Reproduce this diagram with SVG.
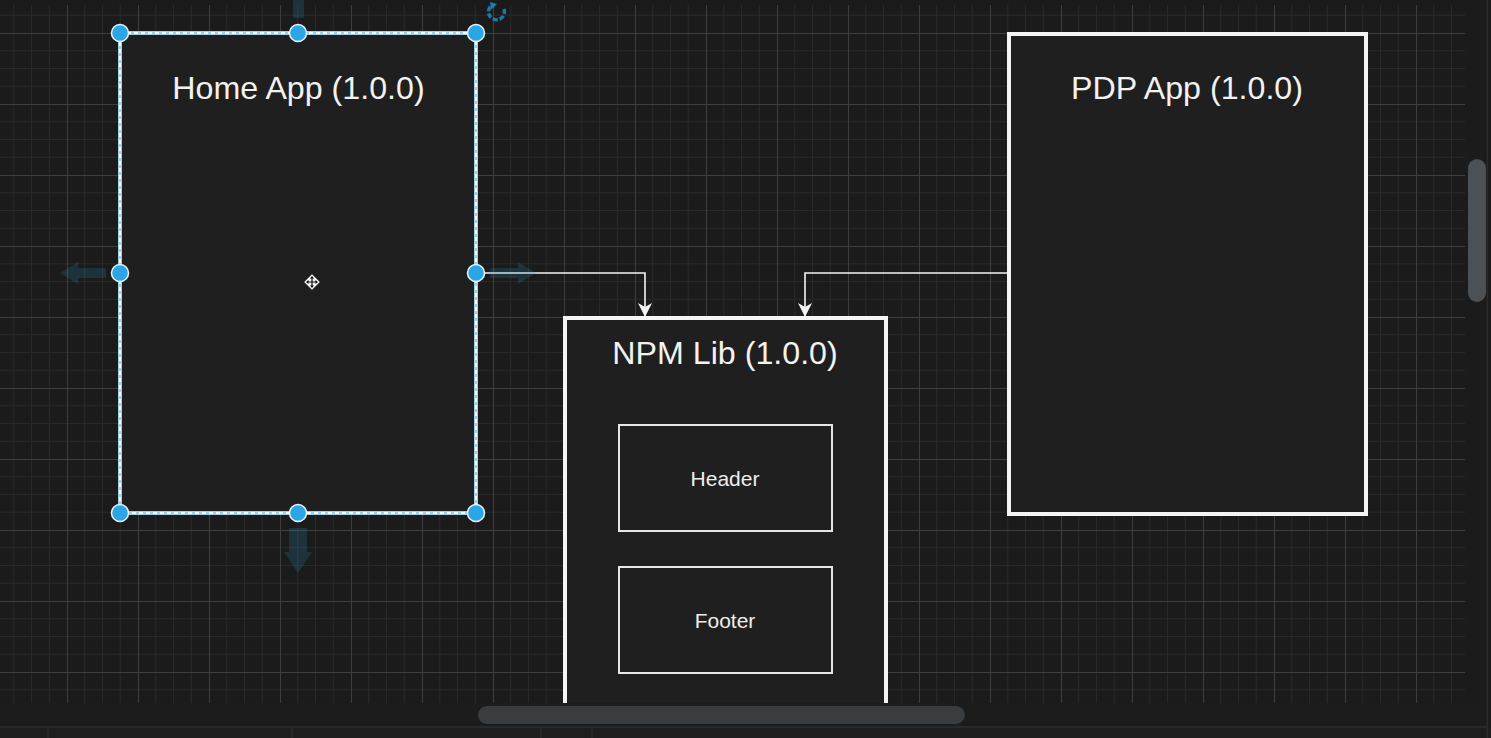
<svg xmlns="http://www.w3.org/2000/svg" width="1491" height="738" viewBox="0 0 1491 738">
  <style>
    .title { font-family: "Liberation Sans", Arial, Helvetica, sans-serif; font-size: 32.2px; fill: #f2f2f2; text-anchor: middle; }
    .label { font-family: "Liberation Sans", Arial, Helvetica, sans-serif; font-size: 21px; fill: #eeeeee; text-anchor: middle; }
    .box { fill: #1f1f1f; stroke: #f4f4f4; stroke-width: 4; }
    .inner { fill: #1f1f1f; stroke: #e6e6e6; stroke-width: 2; }
    .edge { fill: none; stroke: #f4f4f4; stroke-width: 1.6; }
    .handle { fill: #2aa6e6; stroke: #e8f4fb; stroke-width: 1.5; }
    .hover { fill: #2a8fc0; opacity: 0.2; }
    .minor { stroke: #292929; stroke-width: 1; }
    .major { stroke: #3e3e3e; stroke-width: 1; }
  </style>
  <defs>
    <pattern id="grid" patternUnits="userSpaceOnUse" x="67" y="33" width="71" height="71">
      <line class="minor" x1="17.75" y1="0" x2="17.75" y2="71"/>
      <line class="minor" x1="35.5" y1="0" x2="35.5" y2="71"/>
      <line class="minor" x1="53.25" y1="0" x2="53.25" y2="71"/>
      <line class="minor" x1="0" y1="17.75" x2="71" y2="17.75"/>
      <line class="minor" x1="0" y1="35.5" x2="71" y2="35.5"/>
      <line class="minor" x1="0" y1="53.25" x2="71" y2="53.25"/>
      <line class="major" x1="0.5" y1="0" x2="0.5" y2="71"/>
      <line class="major" x1="0" y1="0.5" x2="71" y2="0.5"/>
    </pattern>
    <marker id="arrow" markerUnits="userSpaceOnUse" viewBox="0 0 14 14" markerWidth="14" markerHeight="14" refX="13" refY="7" orient="auto">
      <path d="M0,0 L14,7 L0,14 L4,7 Z" fill="#f4f4f4"/>
    </marker>
  </defs>

  <!-- canvas -->
  <rect x="0" y="0" width="1491" height="738" fill="#1b1b1b"/>
  <rect x="0" y="5" width="1465" height="698" fill="url(#grid)"/>
  <rect x="0" y="703" width="1487" height="24" fill="#1c1c1c"/>
  <line x1="0" y1="727" x2="1487" y2="727" stroke="#2e2e2e" stroke-width="1.5"/>
  <rect x="0" y="728" width="1491" height="10" fill="#1e1e1e"/>
  <g stroke="#333333" stroke-width="1">
    <line x1="48" y1="728" x2="48" y2="738"/>
    <line x1="292" y1="728" x2="292" y2="738"/>
    <line x1="541" y1="728" x2="541" y2="738"/>
    <line x1="592" y1="728" x2="592" y2="738"/>
  </g>
  <line x1="1487.5" y1="0" x2="1487.5" y2="738" stroke="#2c2c2c" stroke-width="1.5"/>
  <rect x="1468" y="159" width="18" height="143" rx="9" fill="#4b5155"/>

  <!-- connectors -->
  <g id="connectors">
    <path class="edge" d="M476,273 H645 V316" marker-end="url(#arrow)"/>
    <path class="edge" d="M1009,273 H805 V316" marker-end="url(#arrow)"/>
  </g>

  <!-- nodes -->
  <g id="home-app">
    <rect x="120" y="33" width="356" height="480" fill="#1f1f1f" stroke="#9fd0ea" stroke-width="4"/>
    <rect x="120" y="33" width="356" height="480" fill="none" stroke="#ffffff" stroke-width="2" stroke-dasharray="4 3"/>
    <text class="title" x="298.5" y="99">Home App (1.0.0)</text>
  </g>

  <g id="pdp-app">
    <rect class="box" x="1009" y="34" width="357" height="480"/>
    <text class="title" x="1187" y="99">PDP App (1.0.0)</text>
  </g>

  <g id="npm-lib">
    <rect class="box" x="565" y="318" width="321" height="400"/>
    <text class="title" x="725" y="364">NPM Lib (1.0.0)</text>
  </g>

  <g id="header">
    <rect class="inner" x="619" y="425" width="213" height="106"/>
    <text class="label" x="725" y="486">Header</text>
  </g>

  <g id="footer">
    <rect class="inner" x="619" y="567" width="213" height="106"/>
    <text class="label" x="725" y="628">Footer</text>
  </g>

  <!-- canvas bottom band overlays the cut-off NPM box -->
  <rect x="0" y="703" width="1487" height="3" fill="#1c1c1c"/>
  <rect x="478" y="706" width="487" height="18" rx="9" fill="#3a3d40"/>

  <!-- selection UI on Home App -->
  <g id="selection-ui">
    <path class="hover" d="M60,273 L78,262 L78,268 L106,268 L106,278 L78,278 L78,284 Z"/>
    <path class="hover" d="M536,273 L518,262 L518,268 L490,268 L490,278 L518,278 L518,284 Z"/>
    <path class="hover" d="M298,573 L284,552 L289,552 L289,528 L307,528 L307,552 L312,552 Z"/>
    <rect class="hover" x="293" y="0" width="11" height="18"/>
    <g fill="none" stroke="#1d86c2" stroke-width="3.5" opacity="0.85">
      <path d="M504,9 A8,8 0 1,1 493,4.5" stroke-dasharray="5 2"/>
    </g>
    <path d="M490,2 L497,4 L491,10 Z" fill="#1d86c2" opacity="0.85"/>
    <circle class="handle" cx="120" cy="33" r="8.5"/>
    <circle class="handle" cx="298" cy="33" r="8.5"/>
    <circle class="handle" cx="476" cy="33" r="8.5"/>
    <circle class="handle" cx="120" cy="273" r="8.5"/>
    <circle class="handle" cx="476" cy="273" r="8.5"/>
    <circle class="handle" cx="120" cy="513" r="8.5"/>
    <circle class="handle" cx="298" cy="513" r="8.5"/>
    <circle class="handle" cx="476" cy="513" r="8.5"/>
    <g transform="translate(312,282)">
      <path d="M0,-8 L8,0 L0,8 L-8,0 Z" fill="#f4f4f4" stroke="#555" stroke-width="0.8"/>
      <path d="M0,-6 L-2,-3.5 L2,-3.5 Z M0,6 L-2,3.5 L2,3.5 Z M-6,0 L-3.5,-2 L-3.5,2 Z M6,0 L3.5,-2 L3.5,2 Z" fill="#111"/>
      <path d="M0,-4 V4 M-4,0 H4" stroke="#111" stroke-width="1.2"/>
    </g>
  </g>
</svg>
